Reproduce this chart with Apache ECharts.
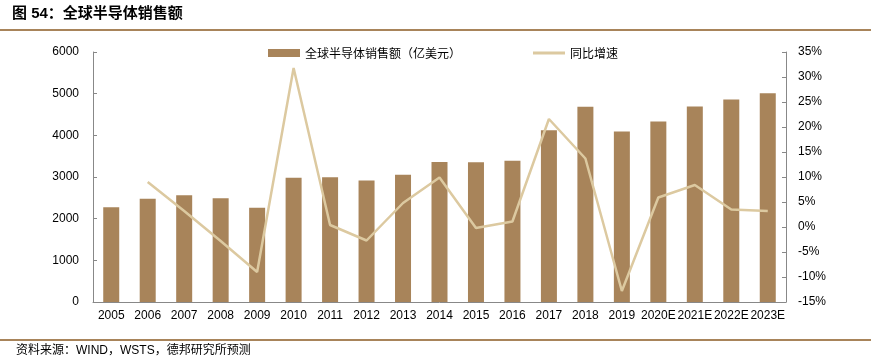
<!DOCTYPE html>
<html>
<head>
<meta charset="utf-8">
<script src="https://cdn.jsdelivr.net/npm/echarts@6/dist/echarts.min.js"></script>
<style>
html,body{margin:0;padding:0;background:#fff;}
#chart{width:871px;height:364px;}
</style>
</head>
<body>
<div id="chart"></div>
<script>
var years = ['2005','2006','2007','2008','2009','2010','2011','2012','2013','2014','2015','2016','2017','2018','2019','2020E','2021E','2022E','2023E'];
var sales = [2275,2480,2560,2490,2260,2980,2995,2915,3056,3360,3352,3389,4122,4688,4090,4330,4694,4860,5010];
var growth = [null,9.0,3.2,-2.8,-9.0,31.8,0.4,-2.7,4.8,9.9,-0.2,1.1,21.6,13.7,-12.8,5.9,8.4,3.5,3.2];

var barColor = '#a8845a';
var lineColor = '#dcc9a0';
var font = 'Liberation Sans, Arial, "Noto Sans CJK SC", sans-serif';

var myChart = echarts.init(document.getElementById('chart'));
var option = {
	animation: false,
	textStyle: {fontFamily: font},
	graphic: [
		{type: 'text', left: 12, top: 6, style: {text: '图 54：全球半导体销售额', font: 'bold 15px ' + font, fill: '#000'}},
		{type: 'rect', shape: {x: 0, y: 29, width: 871, height: 2}, style: {fill: barColor}},
		{type: 'rect', shape: {x: 0, y: 339, width: 871, height: 2}, style: {fill: barColor}},
		{type: 'text', left: 16, top: 345, style: {text: '资料来源：WIND，WSTS，德邦研究所预测', font: '12px ' + font, fill: '#000'}}
	],
	legend: {
		left: 263,
		top: 42,
		itemWidth: 32,
		itemHeight: 8,
		itemGap: 72,
		textStyle: {fontSize: 12, color: '#000', fontFamily: '"Noto Sans CJK SC", sans-serif'},
		data: [
			{name: '全球半导体销售额（亿美元）', icon: 'rect'},
			{name: '同比增速', icon: 'path://M0,0H32V3H0Z', itemStyle: {color: lineColor, borderWidth: 0}}
		]
	},
	grid: {left: 93, right: 85, top: 52, bottom: 62},
	xAxis: {
		type: 'category',
		data: years,
		axisLine: {lineStyle: {color: '#888'}},
		axisTick: {inside: true, length: 4, lineStyle: {color: '#888'}},
		axisLabel: {color: '#000', fontSize: 12, margin: 8, interval: 0}
	},
	yAxis: [
		{
			type: 'value',
			min: 0, max: 6000, interval: 1000,
			axisLine: {show: true, lineStyle: {color: '#888'}},
			axisTick: {show: true, inside: true, length: 4, lineStyle: {color: '#888'}},
			axisLabel: {color: '#000', fontSize: 12, margin: 14, formatter: function (v) { return String(v); }},
			splitLine: {show: false}
		},
		{
			type: 'value',
			min: -15, max: 35, interval: 5,
			axisLine: {show: true, lineStyle: {color: '#888'}},
			axisTick: {show: true, inside: true, length: 4, lineStyle: {color: '#888'}},
			axisLabel: {color: '#000', fontSize: 12, margin: 12, formatter: '{value}%'},
			splitLine: {show: false}
		}
	],
	series: [
		{
			name: '全球半导体销售额（亿美元）',
			type: 'bar',
			data: sales,
			barWidth: 16,
			itemStyle: {color: barColor}
		},
		{
			name: '同比增速',
			type: 'line',
			yAxisIndex: 1,
			data: growth,
			symbol: 'none',
			lineStyle: {color: lineColor, width: 2.5},
			itemStyle: {color: lineColor}
		}
	]
};
myChart.setOption(option);
</script>
</body>
</html>
